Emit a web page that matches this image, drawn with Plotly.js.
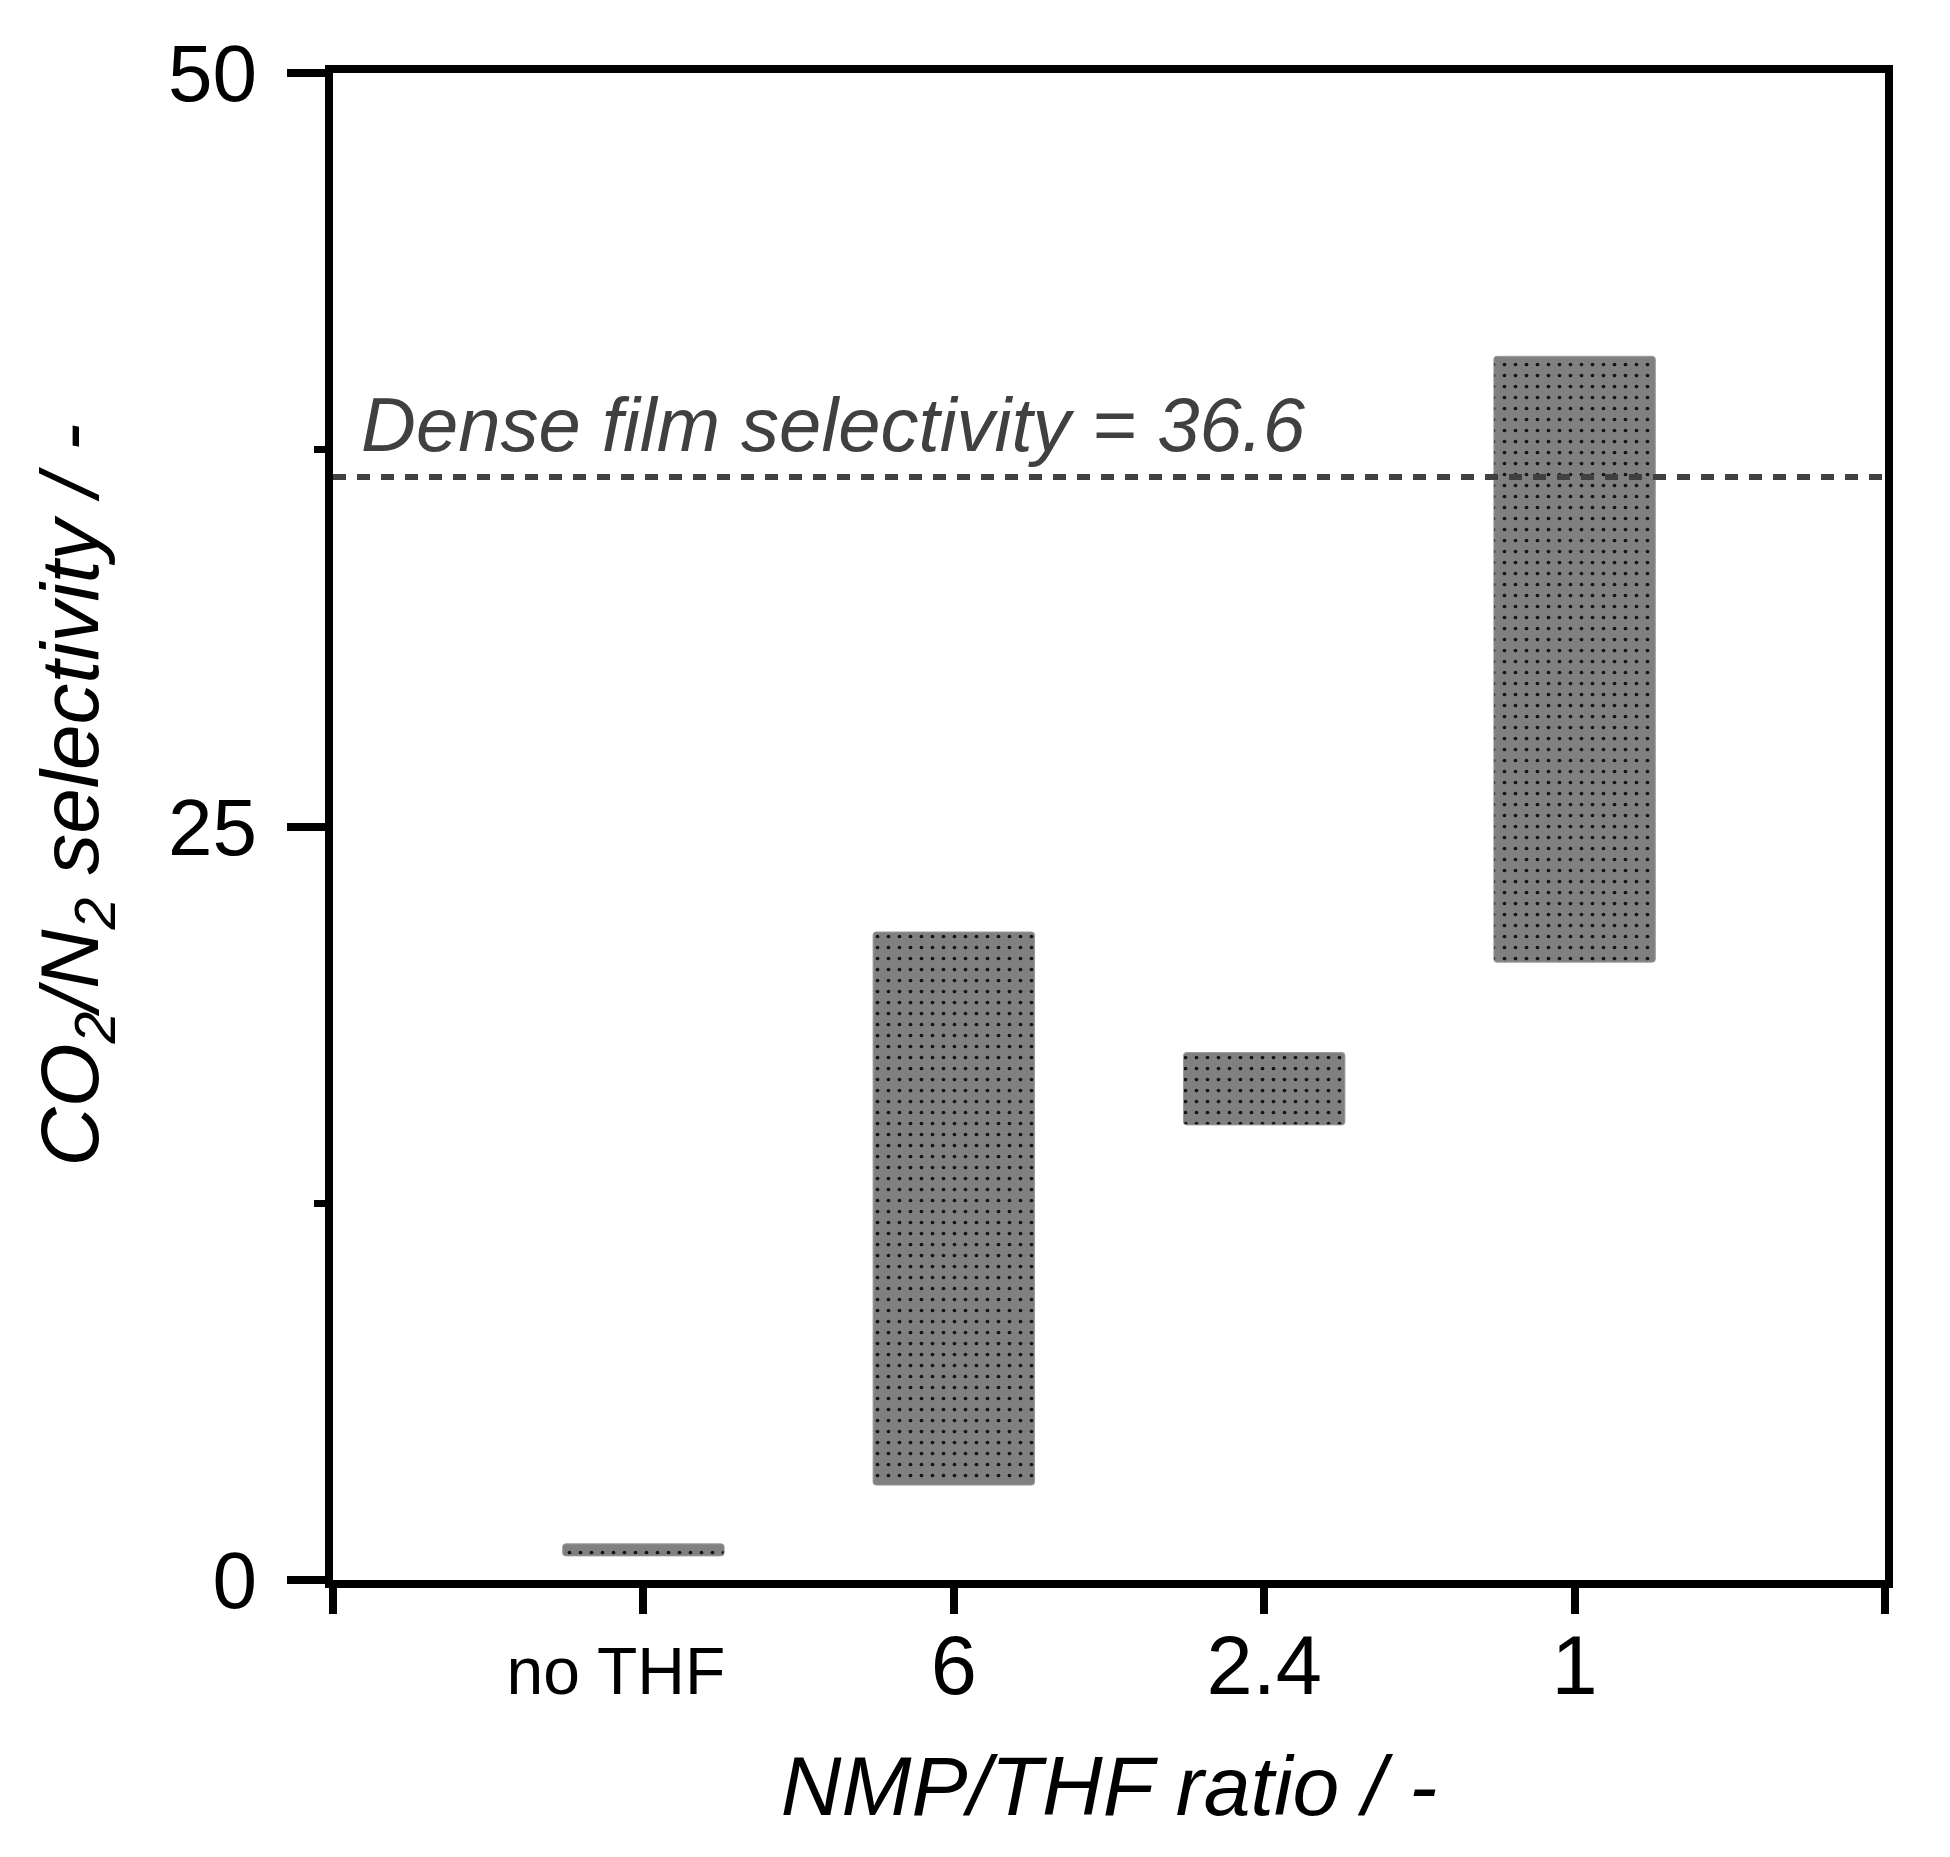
<!DOCTYPE html>
<html>
<head>
<meta charset="utf-8">
<script src="https://cdn.plot.ly/plotly-3.0.1.min.js"></script>
<style>
  body { margin: 0; background: #fff; }
  #chart { width: 1950px; height: 1857px; }
</style>
</head>
<body>
<div id="chart"></div>
<script>
// NMP/THF ratio categories and selectivity range (low / high) for each
var categories = ['no THF', '6', '2.4', '1'];
var xPos = [1, 2, 3, 4];
var lowVals = [0.8, 3.15, 15.1, 20.5];
var highVals = [1.2, 21.5, 17.5, 40.6];
var denseFilm = 36.6;

var yTicks = [0, 25, 50];
var yTickText = ['0', '25', '50'];

var spans = highVals.map(function (h, i) { return h - lowVals[i]; });

var bars = {
  type: 'bar',
  x: xPos,
  y: spans,
  base: lowVals,
  width: 0.52,
  marker: {
    color: '#808080',
    cornerradius: 3,
    line: { color: '#9a9a9a', width: 1 },
    pattern: {
      shape: '.',
      fillmode: 'overlay',
      bgcolor: '#808080',
      fgcolor: '#141414',
      fgopacity: 1,
      size: 11,
      solidity: 0.09
    }
  },
  hoverinfo: 'none'
};

// "no THF" is smaller and sits a little left of its tick
var tickText = categories.map(function (c, i) {
  return i === 0 ? '<span style="font-size:66px">' + c + '\u00a0\u00a0\u00a0</span>' : c;
});

var layout = {
  width: 1950,
  height: 1857,
  paper_bgcolor: '#ffffff',
  plot_bgcolor: '#ffffff',
  showlegend: false,
  margin: { l: 333, r: 65, t: 73, b: 277 },
  font: { family: 'Liberation Sans, Arial, sans-serif', color: '#000' },
  xaxis: {
    range: [0, 5],
    tickmode: 'array',
    tickvals: xPos,
    ticktext: tickText,
    ticks: 'outside',
    ticklen: 26,
    tickwidth: 8,
    tickcolor: '#000',
    ticklabelstandoff: -20,
    tickfont: { size: 83, color: '#000' },
    minor: { tickvals: [0, 5], ticks: 'outside', ticklen: 26, tickwidth: 8, tickcolor: '#000', showgrid: false },
    showline: true,
    linewidth: 8,
    linecolor: '#000',
    mirror: true,
    showgrid: false,
    zeroline: false,
    automargin: false,
    fixedrange: true,
    title: {
      text: '<i>NMP/THF ratio / -</i>',
      font: { size: 84, color: '#000' },
      standoff: 49
    }
  },
  yaxis: {
    range: [0, 50],
    tickmode: 'array',
    tickvals: yTicks,
    ticktext: yTickText,
    ticks: 'outside',
    ticklen: 38,
    tickwidth: 8,
    tickcolor: '#000',
    ticklabelstandoff: 14,
    tickfont: { size: 80, color: '#000' },
    minor: { tickvals: [12.5, 37.5], ticks: 'outside', ticklen: 11, tickwidth: 7, tickcolor: '#000', showgrid: false },
    showline: true,
    linewidth: 8,
    linecolor: '#000',
    mirror: true,
    showgrid: false,
    zeroline: false,
    automargin: false,
    fixedrange: true
  },
  shapes: [{
    type: 'line',
    xref: 'paper', yref: 'y',
    x0: 0, x1: 1,
    y0: denseFilm, y1: denseFilm,
    line: { color: '#404040', width: 6, dash: '13px,11px' },
    layer: 'above'
  }],
  annotations: [{
    xref: 'paper', yref: 'y',
    x: 0.017, y: denseFilm,
    xanchor: 'left', yanchor: 'bottom',
    yshift: 8,
    showarrow: false,
    text: '<i>Dense film selectivity = ' + denseFilm + '</i>',
    font: { size: 76, color: '#404040', family: 'Liberation Sans, Arial, sans-serif' }
  }, {
    xref: 'paper', yref: 'paper',
    x: 0, y: 0.5,
    xanchor: 'center', yanchor: 'middle',
    xshift: -258, yshift: 31,
    textangle: -90,
    showarrow: false,
    text: '<i>CO<sub>2</sub>/N<sub>2</sub> selectivity / -</i>',
    font: { size: 82, color: '#000', family: 'Liberation Sans, Arial, sans-serif' }
  }]
};

var config = { responsive: false, displayModeBar: false, staticPlot: true };

Plotly.newPlot('chart', [bars], layout, config);
</script>
</body>
</html>
